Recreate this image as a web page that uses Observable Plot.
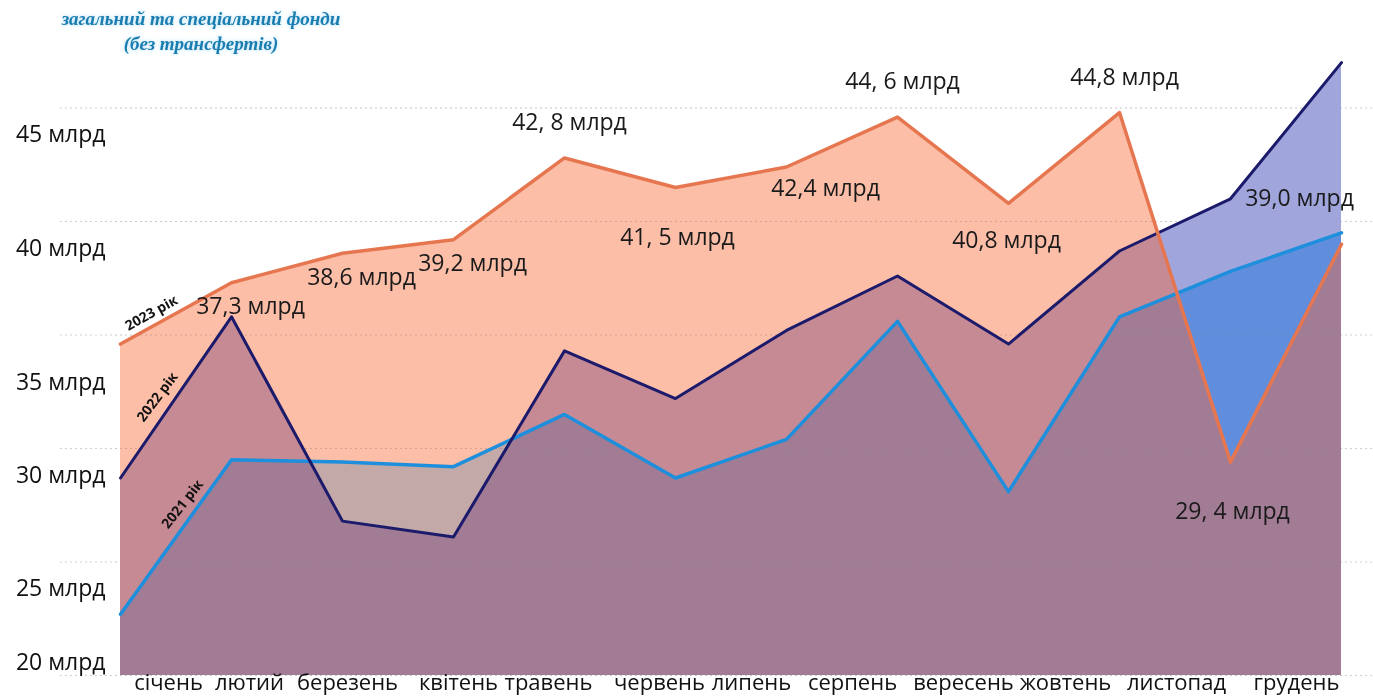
<!DOCTYPE html>
<html>
<head>
<meta charset="utf-8">
<script src="https://cdn.jsdelivr.net/npm/d3@7"></script>
<script src="https://cdn.jsdelivr.net/npm/@observablehq/plot@0.6"></script>
<style>
  html, body { margin: 0; padding: 0; background: #fff; }
  #wrap { position: relative; width: 1373px; height: 697px; overflow: hidden; }
  #title {
    position: absolute; left: 0; top: 6px; width: 402px; text-align: center;
    font-family: "Liberation Serif", "DejaVu Serif", serif; font-style: italic; font-weight: bold;
    font-size: 19px; line-height: 25px; color: #1a7db0;
    text-shadow: 0 0 3px #bfe3f5, 0 0 6px #d6eefa;
  }
</style>
</head>
<body>
<div id="wrap">
  <div id="chart"></div>
  <div id="title">загальний та спеціальний фонди<br>(без трансфертів)</div>
</div>
<script>
// ---- data ----
const months = ["січень","лютий","березень","квітень","травень","червень","липень","серпень","вересень","жовтень","листопад","грудень"];
const v2023 = [34.6, 37.3, 38.6, 39.2, 42.8, 41.5, 42.4, 44.6, 40.8, 44.8, 29.4, 39.0];
const v2022 = [28.7, 35.8, 26.8, 26.1, 34.3, 32.2, 35.2, 37.6, 34.6, 38.7, 41.0, 47.0];
const v2021 = [22.7, 29.5, 29.4, 29.2, 31.5, 28.7, 30.4, 35.6, 28.1, 35.8, 37.8, 39.5];
const labels2023 = [null, "37,3 млрд", "38,6 млрд", "39,2 млрд", "42, 8 млрд", "41, 5 млрд", "42,4 млрд", "44, 6 млрд", "40,8 млрд", "44,8 млрд", "29, 4 млрд", "39,0 млрд"];
const seriesNames = ["2023 рік", "2022 рік", "2021 рік"];
const yTicks = [20, 25, 30, 35, 40, 45];
const yUnit = " млрд";

// ---- tables built from the arrays ----
const rows = (vals) => months.map((m, i) => ({month: m, value: vals[i]}));
const d2023 = rows(v2023).map((d, i) => ({...d, label: labels2023[i]}));
const d2022 = rows(v2022);
const d2021 = rows(v2021);

const FONT = "Open Sans, Noto Sans, sans-serif";
const base = yTicks[0];

// annotation placement helper
const ann = (list, dx, dy) => Plot.text(d2023.filter(d => d.label && list.includes(d.month)), {
  x: "month", y: "value", text: "label", dx, dy,
  fontSize: 23, fill: "#1a1a1a", fontFamily: FONT
});
// x axis helper (labels in the reference are laid out as a text row)
const xax = (list, dx) => Plot.axisX(list, {
  anchor: "bottom", tickSize: 0, tickPadding: 0, dx, dy: -1, fontSize: 22, fill: "#111",
  fontFamily: FONT, label: null
});
const yax = (list, dy) => Plot.axisY(list, {
  anchor: "left", tickSize: 0, tickPadding: 10, dy, fontSize: 23, fill: "#111",
  fontFamily: FONT, tickFormat: d => d + yUnit, label: null
});
const seriesLabel = (data, name, dx, dy, rotate) => Plot.text([data[0]], {
  x: "month", y: "value", text: () => name, dx, dy, rotate,
  fontSize: 14, fontWeight: "bold", fill: "#111", fontFamily: FONT
});

const chart = Plot.plot({
  width: 1373,
  height: 697,
  marginLeft: 115,
  marginRight: 28,
  marginTop: 0,
  marginBottom: 22,
  style: {background: "transparent", overflow: "visible"},
  x: {type: "point", domain: months, range: [115, 1345], padding: 0, axis: null},
  y: {domain: [20, 45], range: [675, 107.5], axis: null},
  marks: [
    // faint dotted gridlines
    Plot.gridY(yTicks, {stroke: "#9a9a9a", strokeOpacity: 0.45, strokeDasharray: "2,3", insetLeft: -55, insetRight: -28}),
    // filled areas
    Plot.areaY(d2022, {x: "month", y1: base, y2: "value", fill: "rgb(160,165,220)"}),
    Plot.areaY(d2021, {x: "month", y1: base, y2: "value", fill: "rgb(155,220,255)", mixBlendMode: "multiply"}),
    Plot.areaY(d2023, {x: "month", y1: base, y2: "value", fill: "rgb(250,100,48)", fillOpacity: 0.42}),
    Plot.gridY(yTicks, {stroke: "#9a9a9a", strokeOpacity: 0.18, strokeDasharray: "2,3"}),
    // lines
    Plot.lineY(d2021, {x: "month", y: "value", stroke: "#1d8fdc", strokeWidth: 3.5}),
    Plot.lineY(d2022, {x: "month", y: "value", stroke: "#1b1a6b", strokeWidth: 3}),
    Plot.lineY(d2023, {x: "month", y: "value", stroke: "#e6764f", strokeWidth: 3.5}),
    // value annotations
    ann(["лютий", "березень", "квітень"], 19, 24),
    ann(["липень"], 39, 22),
    ann(["травень", "серпень", "жовтень"], 5, -35),
    ann(["червень", "листопад"], 2, 50),
    ann(["вересень"], -2, 37),
    ann(["грудень"], -42, -46),
    // series labels
    seriesLabel(d2023, seriesNames[0], 31, -31, -29),
    seriesLabel(d2022, seriesNames[1], 37, -81, -53),
    seriesLabel(d2021, seriesNames[2], 62, -110, -52),
    // axes
    yax([45, 40, 30, 25], 27),
    yax([35], 48),
    yax([20], -13),
    xax(["січень"], 48),
    xax(["лютий"], 18),
    xax(["березень", "квітень"], 5),
    xax(["травень", "червень"], -16),
    xax(["липень"], -35),
    xax(["серпень", "вересень"], -45),
    xax(["жовтень", "листопад"], -54),
    xax(["грудень"], -45)
  ]
});
document.getElementById("chart").appendChild(chart);
</script>
</body>
</html>
